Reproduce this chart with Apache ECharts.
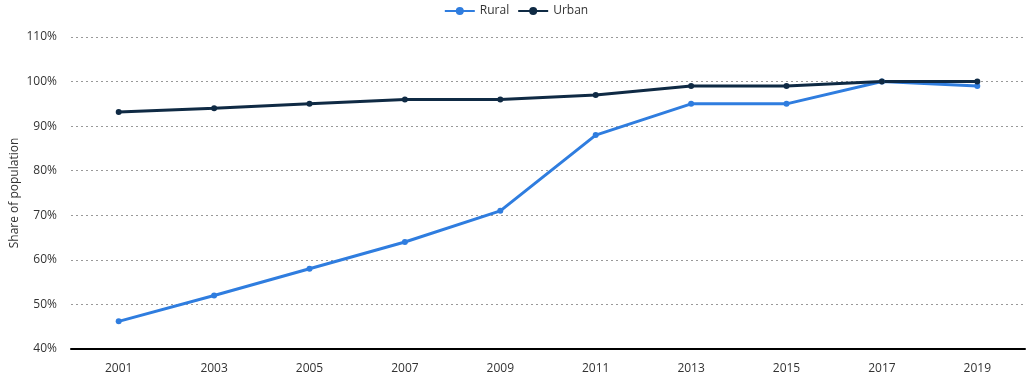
<!DOCTYPE html>
<html><head><meta charset="utf-8">
<script src="https://cdn.jsdelivr.net/npm/echarts@6/dist/echarts.min.js"></script>
<style>html,body{margin:0;padding:0;background:#fff}#c{width:1032px;height:386px}</style>
</head><body><div id="c"></div>
<script>
var years = ['2001','2003','2005','2007','2009','2011','2013','2015','2017','2019'];
var rural = [46.2, 52, 58, 64, 71, 88, 95, 95, 100, 99];
var urban = [93.2, 94, 95, 96, 96, 97, 99, 99, 100, 100];
var chart = echarts.init(document.getElementById('c'), null, {renderer:'canvas'});
var font = '"Open Sans", "Noto Sans", sans-serif';
chart.setOption({
  animation:false,
  textStyle:{fontFamily:font},
  legend:{top:0, left:'center', itemWidth:30, itemHeight:10, itemGap:8,
    textStyle:{fontFamily:font, fontSize:12, color:'#333'},
    data:['Rural','Urban']},
  grid:{left:71, right:7, top:37, bottom:37, containLabel:false, outerBoundsMode:'none'},
  xAxis:{type:'category', data:years, boundaryGap:true,
    axisLine:{lineStyle:{color:'#000', width:2}},
    axisTick:{show:false},
    axisLabel:{color:'#333', fontSize:12, fontFamily:font, margin:14}},
  yAxis:{type:'value', min:40, max:110, interval:10,
    name:'Share of population', nameLocation:'middle', nameGap:50, nameMoveOverlap:false,
    nameTextStyle:{color:'#333', fontSize:12, fontFamily:font},
    axisLine:{show:false}, axisTick:{show:false},
    axisLabel:{formatter:'{value}%', color:'#333', fontSize:12, fontFamily:font, margin:14},
    splitLine:{lineStyle:{color:'#999', type:[2,3], width:1}}},
  series:[
    {name:'Rural', type:'line', data:rural, color:'#2f7ddf', symbol:'circle', symbolSize:6,
      lineStyle:{width:3}, itemStyle:{color:'#2f7ddf'}},
    {name:'Urban', type:'line', data:urban, color:'#0f2a44', symbol:'circle', symbolSize:6,
      lineStyle:{width:3}, itemStyle:{color:'#0f2a44'}}
  ]
});
</script></body></html>
